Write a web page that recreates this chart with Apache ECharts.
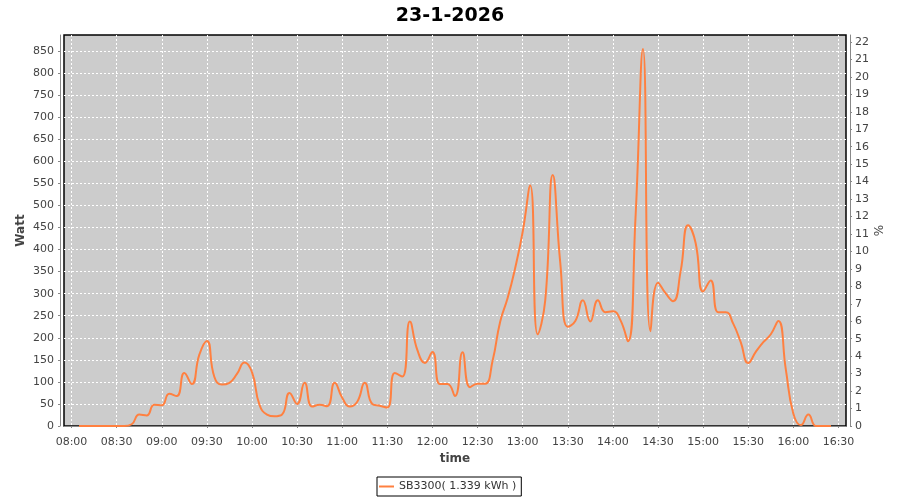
<!DOCTYPE html>
<html>
<head>
<meta charset="utf-8">
<title>23-1-2026</title>
<script src="https://cdn.jsdelivr.net/npm/echarts@6/dist/echarts.min.js"></script>
<style>
	html, body { margin: 0; padding: 0; background: #fff; }
	#chart { width: 900px; height: 500px; }
</style>
</head>
<body>
<div id="chart"></div>
<script>
	var chartTitle = '23-1-2026';
	var seriesName = 'SB3300( 1.339 kWh )';

	// sample times, every 5 minutes
	var times = [
		'08:05','08:10','08:15','08:20','08:25','08:30','08:35','08:40','08:45','08:50',
		'08:55','09:00','09:05','09:10','09:15','09:20','09:25','09:30','09:35','09:40',
		'09:45','09:50','09:55','10:00','10:05','10:10','10:15','10:20','10:25','10:30',
		'10:35','10:40','10:45','10:50','10:55','11:00','11:05','11:10','11:15','11:20',
		'11:25','11:30','11:35','11:40','11:45','11:50','11:55','12:00','12:05','12:10',
		'12:15','12:20','12:25','12:30','12:35','12:40','12:45','12:50','12:55','13:00',
		'13:05','13:10','13:15','13:20','13:25','13:30','13:35','13:40','13:45','13:50',
		'13:55','14:00','14:05','14:10','14:15','14:20','14:25','14:30','14:35','14:40',
		'14:45','14:50','14:55','15:00','15:05','15:10','15:15','15:20','15:25','15:30',
		'15:35','15:40','15:45','15:50','15:55','16:00','16:05','16:10','16:15','16:20',
		'16:25'
	];
	// power in Watt
	var watts = [
		0, 0, 0, 0, 0, 0, 0, 4, 26, 24,
		48, 47, 73, 68, 120, 95, 162, 193, 111, 94,
		98, 118, 144, 122, 48, 26, 22, 26, 75, 50,
		98, 44, 48, 45, 98, 64, 44, 55, 98, 50,
		46, 42, 120, 112, 237, 172, 143, 168, 95, 95,
		68, 167, 88, 96, 96, 148, 236, 290, 358, 440,
		545, 208, 285, 569, 370, 225, 238, 285, 237, 285,
		258, 260, 240, 192, 470, 855, 215, 325, 301, 283,
		350, 455, 415, 305, 330, 258, 258, 232, 190, 143,
		168, 190, 208, 238, 128, 28, 2, 26, 0, 0,
		0
	];

	// axis ranges
	var timeMin = '07:55', timeMax = '16:35', timeStep = 30;
	var wattMax = 886.5, wattStep = 50;
	var pctMax = 22.4, pctStep = 1;

	var FONT = 'DejaVu Sans';

	function toMin(s) {
		var p = s.split(':');
		return parseInt(p[0], 10) * 60 + parseInt(p[1], 10);
	}
	function pad(n) { return (n < 10 ? '0' : '') + n; }
	function fmtTime(v) {
		return pad(Math.floor(v / 60)) + ':' + pad(Math.round(v % 60));
	}

	var seriesData = times.map(function (t, i) { return [toMin(t), watts[i]]; });

	var grayLine = { color: '#888888', width: 1 };
	// no split line on the plot edges, so the black border stays solid
	var gridLine = { show: true, showMinLine: false, showMaxLine: false, lineStyle: { color: '#ffffff', width: 1, type: [2, 2] } };
	var tickLabel = { color: '#444444', fontSize: 11, fontFamily: FONT };

	var chart = echarts.init(document.getElementById('chart'));
	chart.setOption({
		backgroundColor: '#ffffff',
		animation: false,
		title: {
			text: chartTitle,
			left: 'center',
			top: 2,
			textStyle: { fontFamily: FONT, fontSize: 19, fontWeight: 'bold', color: '#000000' }
		},
		legend: {
			left: 377,
			top: 477,
			padding: [4, 5, 4, 2],
			itemWidth: 15,
			itemHeight: 2,
			icon: 'rect',
			borderColor: '#000000',
			borderWidth: 1,
			textStyle: { fontFamily: FONT, fontSize: 11, color: '#333333' },
			data: [seriesName]
		},
		grid: {
			left: 64,
			right: 54,
			top: 35,
			bottom: 74,
			show: true,
			backgroundColor: '#cccccc',
			borderColor: '#000000',
			borderWidth: 1.5
		},
		xAxis: {
			type: 'value',
			min: toMin(timeMin),
			max: toMin(timeMax),
			splitNumber: 17,
			minInterval: timeStep,
			maxInterval: timeStep,
			offset: 4,
			name: 'time',
			nameLocation: 'middle',
			nameGap: 23,
			nameMoveOverlap: false,
			nameTextStyle: { fontFamily: FONT, fontSize: 12, fontWeight: 'bold', color: '#444444' },
			axisLine: { lineStyle: grayLine },
			axisTick: { length: 2, lineStyle: grayLine },
			axisLabel: Object.assign({ margin: 7, showMinLabel: false, showMaxLabel: false, formatter: fmtTime }, tickLabel),
			splitLine: gridLine
		},
		yAxis: [
			{
				type: 'value',
				min: 0,
				max: wattMax,
				interval: wattStep,
				offset: 4,
				name: 'Watt',
				nameLocation: 'middle',
				nameGap: 33,
				nameMoveOverlap: false,
				nameTextStyle: { fontFamily: FONT, fontSize: 12, fontWeight: 'bold', color: '#444444' },
				axisLine: { show: true, lineStyle: grayLine },
				axisTick: { show: true, length: 2, lineStyle: grayLine },
				axisLabel: Object.assign({ margin: 6, showMaxLabel: false }, tickLabel),
				splitLine: gridLine
			},
			{
				type: 'value',
				position: 'right',
				min: 0,
				max: pctMax,
				interval: pctStep,
				offset: 4,
				name: '%',
				nameLocation: 'middle',
				nameGap: 24,
				nameMoveOverlap: false,
				nameTextStyle: { fontFamily: FONT, fontSize: 12, color: '#444444' },
				axisLine: { show: true, lineStyle: grayLine },
				axisTick: { show: true, length: 2, lineStyle: grayLine },
				axisLabel: Object.assign({ margin: 5, showMaxLabel: false }, tickLabel),
				splitLine: { show: false }
			}
		],
		series: [
			{
				name: seriesName,
				type: 'line',
				data: seriesData,
				smooth: 0.5,
				symbol: 'none',
				lineStyle: { color: '#ff8040', width: 2 },
				itemStyle: { color: '#ff8040' }
			}
		]
	});
</script>
</body>
</html>
